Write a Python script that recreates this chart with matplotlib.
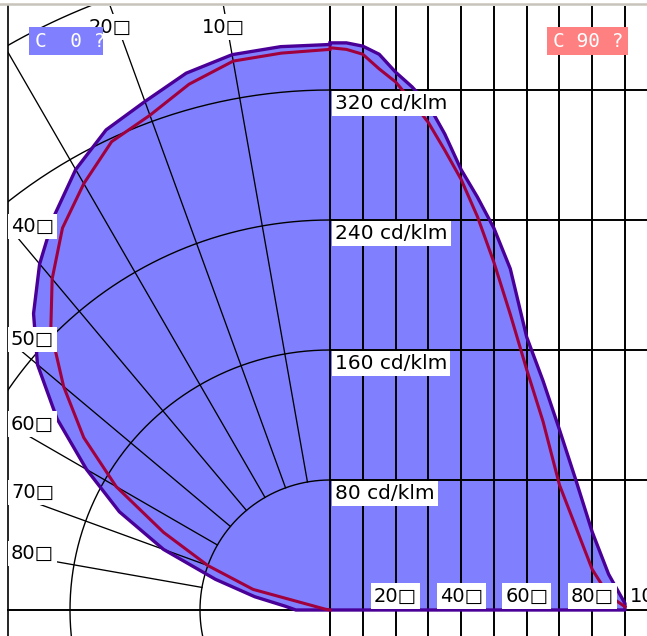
import numpy as np
import matplotlib
matplotlib.use("Agg")
import matplotlib.pyplot as plt
from matplotlib.patches import Polygon, Rectangle

# ---------------- data (cd/klm) ----------------
angles = [0, 5, 10, 15, 20, 25, 30, 35, 40, 45, 50, 55, 60, 65, 70, 75, 80, 85, 90]
# C0 plane (blue fill, purple outline) – left half drawn as polar curve
c0_left = [348, 348, 347, 342, 333, 326, 313, 296, 278, 258, 235, 205, 173, 143, 109, 73, 47, 28, 21]
# C90 plane (red) – left half
c90_left = [345, 344, 343, 335, 324, 318, 303, 287, 266, 243, 214, 185, 152, 113, 80, 49, 3, 0, 0]
# right half drawn on the linear grid
c0_right = [349, 349, 347, 342, 331, 322, 311, 293, 271, 254, 235, 210, 168, 141, 111, 80, 48, 22, 4]
c90_right = [346, 345, 342, 333, 325, 313, 300, 283, 265, 242, 214, 182, 148, 116, 77, 51, 25, 9, 2]

rings = [80, 160, 240, 320, 400]
ring_labels = ["80 cd/klm", "160 cd/klm", "240 cd/klm", "320 cd/klm"]
radial_angles = [10, 20, 30, 40, 50, 60, 70, 80]
radial_labels = ["10□", "20□", None, "40□", "50□", "60□", "70□", "80□"]
lin_angles = [0, 10, 20, 30, 40, 50, 60, 70, 80, 90, 100]
lin_label_angles = [20, 40, 60, 80, 100]
lin_labels = ["20□", "40□", "60□", "80□", "100□"]
plane_labels = ["C  0 ?", "C 90 ?"]

# ---------------- layout ----------------
W, H = 647, 636
S = 1.625            # pixels per cd/klm
X0, Y0 = 330, 610    # pixel position of the origin

def px2x(px):
    return (px - X0) / S

def px2y(py):
    return (Y0 - py) / S

DEG = (625 - 330) / 90 / S   # data units per degree on the linear half

BLUE_FILL = "#8080ff"
PURPLE = "#4a0096"
RED = "#a0003c"
SALMON = "#ff8080"

fig = plt.figure(figsize=(W / 100, H / 100), dpi=100)
ax = fig.add_axes([0, 0, 1, 1])
ax.set_xlim(px2x(0), px2x(W))
ax.set_ylim(px2y(H), px2y(0))
ax.set_aspect("auto")
ax.axis("off")

xL = px2x(8)
yT = px2y(6)
yB = px2y(H)
xR = px2x(W)
clip = Rectangle((xL, yB), xR - xL, yT - yB, transform=ax.transData)

g = np.radians(np.array(angles, dtype=float))

def polar_xy(vals):
    v = np.array(vals, dtype=float)
    return -v * np.sin(g), v * np.cos(g)

def lin_xy(vals):
    return np.array(angles, dtype=float) * DEG, np.array(vals, dtype=float)

# ---------------- fill ----------------
lx, ly = polar_xy(c0_left)
rx, ry = lin_xy(c0_right)
poly_x = np.concatenate([lx, [0.0, rx[-1]], rx[::-1]])
poly_y = np.concatenate([ly, [0.0, 0.0], ry[::-1]])
ax.add_patch(Polygon(np.column_stack([poly_x, poly_y]), closed=True,
                     facecolor=BLUE_FILL, edgecolor="none", zorder=1))

# ---------------- grid ----------------
th = np.linspace(np.pi / 2, 3 * np.pi / 2, 400)
for r in rings:
    ln, = ax.plot(r * np.cos(th), r * np.sin(th), color="black", lw=1.0, zorder=2)
    ln.set_clip_path(clip)

for a in radial_angles:
    ar = np.radians(a)
    t_left = -xL / np.sin(ar)
    t_top = yT / np.cos(ar)
    t = min(t_left, t_top)
    ln, = ax.plot([-rings[0] * np.sin(ar), -t * np.sin(ar)],
                  [rings[0] * np.cos(ar), t * np.cos(ar)],
                  color="black", lw=0.95, zorder=2)
    ln.set_clip_path(clip)

for a in lin_angles:
    ln, = ax.plot([a * DEG, a * DEG], [yB, yT], color="black", lw=1.4, zorder=2)
    ln.set_clip_path(clip)

for r in rings[:4]:
    ax.plot([0, xR], [r, r], color="black", lw=1.4, zorder=2)

ax.plot([xL, xR], [0, 0], color="black", lw=1.4, zorder=2)

# frame
ax.plot([xL, xL], [yB, yT], color="black", lw=1.2, zorder=6)
ax.plot([px2x(0), xR], [px2y(4), px2y(4)], color="#c8c4bc", lw=1.8, zorder=6)

# ---------------- curves ----------------
outline_x = np.concatenate([lx, [0.0, rx[-1]], rx[::-1]])
outline_y = np.concatenate([ly, [0.0, 0.0], ry[::-1]])
ax.plot(outline_x, outline_y, color=PURPLE, lw=2.4, zorder=3,
        solid_joinstyle="round")

rlx, rly = polar_xy(c90_left)
ax.plot(rlx, rly, color=RED, lw=2.2, zorder=4, solid_joinstyle="round")
rrx, rry = lin_xy(c90_right)
ax.plot(rrx, rry, color=RED, lw=2.2, zorder=4, solid_joinstyle="round")

# ---------------- labels ----------------
box = dict(facecolor="white", edgecolor="none", pad=2.2)
for r, lab in zip(rings[:4], ring_labels):
    ax.text(px2x(335), r - 8.2, lab, fontsize=14.5, ha="left", va="center",
            family="DejaVu Sans", color="black", bbox=box, zorder=7)

for a, lab in zip(radial_angles, radial_labels):
    if lab is None:
        continue
    ar = np.radians(a)
    t_left = -xL / np.sin(ar)
    t_top = yT / np.cos(ar)
    if t_top < t_left:
        ax.text(-t_top * np.sin(ar), px2y(27), lab, fontsize=14, ha="center",
                va="center", family="DejaVu Sans", bbox=box, zorder=7)
    else:
        ax.text(px2x(11), t_left * np.cos(ar), lab, fontsize=14, ha="left",
                va="center", family="DejaVu Sans", bbox=box, zorder=7)

for a, lab in zip(lin_label_angles, lin_labels):
    ax.text(a * DEG, px2y(596), lab, fontsize=14, ha="center", va="center",
            family="DejaVu Sans", bbox=box, zorder=7)

# plane legend boxes
for (x0p, x1p, col), lab in zip([(29, 103, BLUE_FILL), (547, 628, SALMON)], plane_labels):
    ax.add_patch(Rectangle((px2x(x0p), px2y(55)), (x1p - x0p) / S, 28 / S,
                           facecolor=col, edgecolor="none", zorder=8))
    ax.text(px2x(x0p + 6), px2y(41.5), lab, fontsize=14, ha="left", va="center",
            family="DejaVu Sans Mono", color="white", zorder=9)

fig.savefig("out.png", dpi=100, facecolor="white")
